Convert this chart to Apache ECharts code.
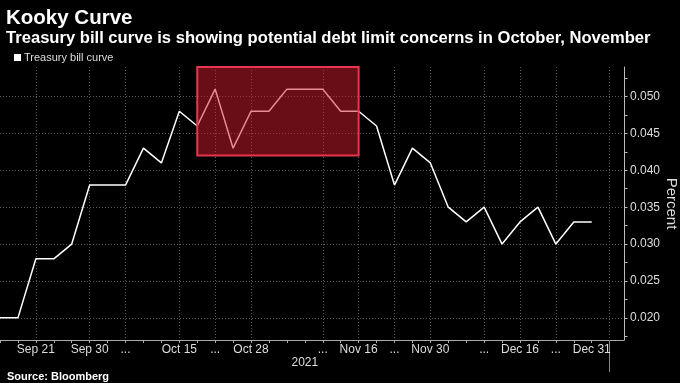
<!DOCTYPE html>
<html>
<head>
<meta charset="utf-8">
<script src="https://cdn.jsdelivr.net/npm/echarts@6/dist/echarts.min.js"></script>
<style>
html,body{margin:0;padding:0;background:#000;}
#chart{width:680px;height:383px;}
</style>
</head>
<body>
<div id="chart"></div>
<script>
// Treasury bill curve (percent), one value per bill maturity
const values = [0.020,0.020,0.028,0.028,0.030,0.038,0.038,0.038,0.043,0.041,0.048,0.046,0.051,0.043,0.048,0.048,0.051,0.051,0.051,0.048,0.048,0.046,0.038,0.043,0.041,0.035,0.033,0.035,0.030,0.033,0.035,0.030,0.033,0.033];
// x tick labels (by maturity index)
const xLabelPos = [2,5,7,10,12,14,18,20,22,24,27,29,31,33];
const xLabelText = ['Sep 21','Sep 30','...','Oct 15','...','Oct 28','...','Nov 16','...','Nov 30','...','Dec 16','...','Dec 31'];
const xGridPos = [2,5,7,10,12,14,18,20,22,24,27,29,31,34];
const xMinorTicks = [0,1,2,3,4,5,6,7,8,9,10,11,12,13,14,15,16,17,18,19,20,21,22,23,24,25,26,27,28,29,30,31,32,33,34];
const yearLabel = ['2021'];
const yearLabelPos = [17];
const yearDividerPos = [34];
// y ticks
const yTicks = [0.020,0.025,0.030,0.035,0.040,0.045,0.050];
const yAllTicks = [0.0175,0.020,0.0225,0.025,0.0275,0.030,0.0325,0.035,0.0375,0.040,0.0425,0.045,0.0475,0.050,0.0525];
const yRange = [0.017, 0.054];
const xRange = [0, 34.8];
// highlighted window: maturity index range and value range
const boxX = [11, 20];
const boxY = [0.042, 0.054];

const seriesData = values.map((v, i) => [i, v]);
const labelMap = {};
xLabelPos.forEach((p, i) => { labelMap[p] = xLabelText[i]; });

const FONT = 'Liberation Sans';
const chart = echarts.init(document.getElementById('chart'), null, {renderer: 'canvas'});
const gridLine = {show: true, lineStyle: {color: '#5a5a5a', type: [1, 2], width: 1}};
chart.setOption({
  backgroundColor: '#000',
  animation: false,
  title: [
    {text: 'Kooky Curve', left: 1, top: 3, textStyle: {color: '#fff', fontFamily: FONT, fontWeight: 'bold', fontSize: 20.5}},
    {text: 'Treasury bill curve is showing potential debt limit concerns in October, November', left: 1, top: 25, textStyle: {color: '#fff', fontFamily: FONT, fontWeight: 'bold', fontSize: 16.6}},
    {text: 'Source: Bloomberg', left: 2, top: 366, textStyle: {color: '#fff', fontFamily: FONT, fontWeight: 'bold', fontSize: 11}}
  ],
  legend: {
    left: 9, top: 47, itemWidth: 7, itemHeight: 7, itemGap: 4, icon: 'rect',
    textStyle: {color: '#ddd', fontFamily: FONT, fontSize: 11, padding: [0,0,0,-2]},
    data: ['Treasury bill curve']
  },
  grid: {left: 0, right: 56, top: 67, bottom: 43, containLabel: false, outerBoundsMode: 'none'},
  xAxis: [
    {
      type: 'value', position: 'bottom', offset: 0, min: xRange[0], max: xRange[1],
      axisLine: {show: true, onZero: false, lineStyle: {color: '#aaa', width: 1}},
      axisTick: {show: false, customValues: xGridPos},
      splitLine: gridLine,
      axisLabel: {customValues: xLabelPos, formatter: v => labelMap[v] || '', color: '#ddd', fontFamily: FONT, fontSize: 12, margin: 4}
    },
    {
      type: 'value', position: 'bottom', offset: 0, min: xRange[0], max: xRange[1],
      axisLine: {show: false, onZero: false},
      axisTick: {show: true, customValues: xMinorTicks, length: 3, lineStyle: {color: '#aaa'}},
      splitLine: {show: false},
      axisLabel: {show: false}
    },
    {
      type: 'value', position: 'bottom', offset: 0, min: xRange[0], max: xRange[1],
      axisLine: {show: false, onZero: false},
      axisTick: {show: true, customValues: yearDividerPos, length: 32, lineStyle: {color: '#888'}},
      splitLine: {show: false},
      axisLabel: {customValues: yearLabelPos, formatter: () => yearLabel[0], color: '#ddd', fontFamily: FONT, fontSize: 12, margin: 17}
    }
  ],
  yAxis: [
    {
      type: 'value', position: 'right', offset: 0, min: yRange[0], max: yRange[1],
      name: 'Percent', nameLocation: 'middle', nameRotate: -90, nameGap: 40, nameMoveOverlap: false,
      nameTextStyle: {color: '#ddd', fontFamily: FONT, fontSize: 15},
      axisLine: {show: true, onZero: false, lineStyle: {color: '#bbb', width: 1}},
      axisTick: {show: true, customValues: yAllTicks, length: 3.5, lineStyle: {color: '#bbb'}},
      splitLine: {show: false},
      axisLabel: {customValues: yTicks, formatter: v => v.toFixed(3), color: '#ddd', fontFamily: FONT, fontSize: 12, margin: 6}
    },
    {
      type: 'value', position: 'left', offset: 0, min: yRange[0], max: yRange[1],
      axisLine: {show: false, onZero: false},
      axisTick: {show: false, customValues: yTicks},
      splitLine: gridLine,
      axisLabel: {show: false}
    }
  ],
  series: [{
    name: 'Treasury bill curve', type: 'line', data: seriesData,
    xAxisIndex: 0, yAxisIndex: 0,
    showSymbol: false, symbol: 'none',
    lineStyle: {color: '#fff', width: 1.5},
    itemStyle: {color: '#fff'},
    markArea: {
      silent: true, z: 5,
      itemStyle: {color: 'rgba(210,25,45,0.5)', borderColor: '#e8344c', borderWidth: 2},
      data: [[{xAxis: boxX[0], yAxis: boxY[0]}, {xAxis: boxX[1], yAxis: boxY[1]}]]
    }
  }]
});
</script>
</body>
</html>
